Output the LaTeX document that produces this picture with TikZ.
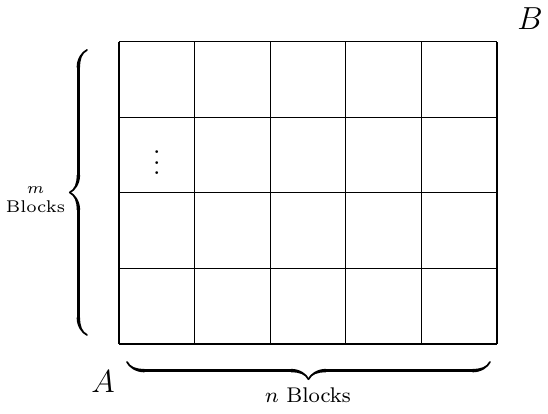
\documentclass[tikz,border=0pt]{standalone}
\usetikzlibrary{decorations.pathreplacing,calligraphy}
\begin{document}
\begin{tikzpicture}[
  bracestyle/.style={decorate,decoration={calligraphic brace,amplitude=6.5pt},line width=1.3pt},
  smalllabel/.style={font=\fontsize{6.4}{7.2}\selectfont,align=center,inner sep=0pt},
  midlabel/.style={font=\footnotesize,inner sep=0pt},
  cornerlabel/.style={font=\large,inner sep=0pt}
]
\useasboundingbox (-1.574,-0.913) rectangle (5.675,4.550);
\draw[line width=0.45pt] (0,0) grid (5,4);
\node (dots) at (0.5,2.5) {$\vdots$};
\node[cornerlabel] (A) at (-0.212,-0.503) {$A$};
\node[cornerlabel] (B) at (5.437,4.299) {$B$};
\coordinate (bl) at (0.106,-0.238);
\coordinate (br) at (4.907,-0.238);
\draw[bracestyle] (br) -- (bl);
\node[midlabel] (nb) at (2.5,-0.675) {$n$ Blocks};
\coordinate (lb) at (-0.423,0.119);
\coordinate (lt) at (-0.423,3.889);
\draw[bracestyle] (lb) -- (lt);
\node[smalllabel] (mb) at (-1.104,1.905) {$m$\\Blocks};
\end{tikzpicture}
\end{document}
